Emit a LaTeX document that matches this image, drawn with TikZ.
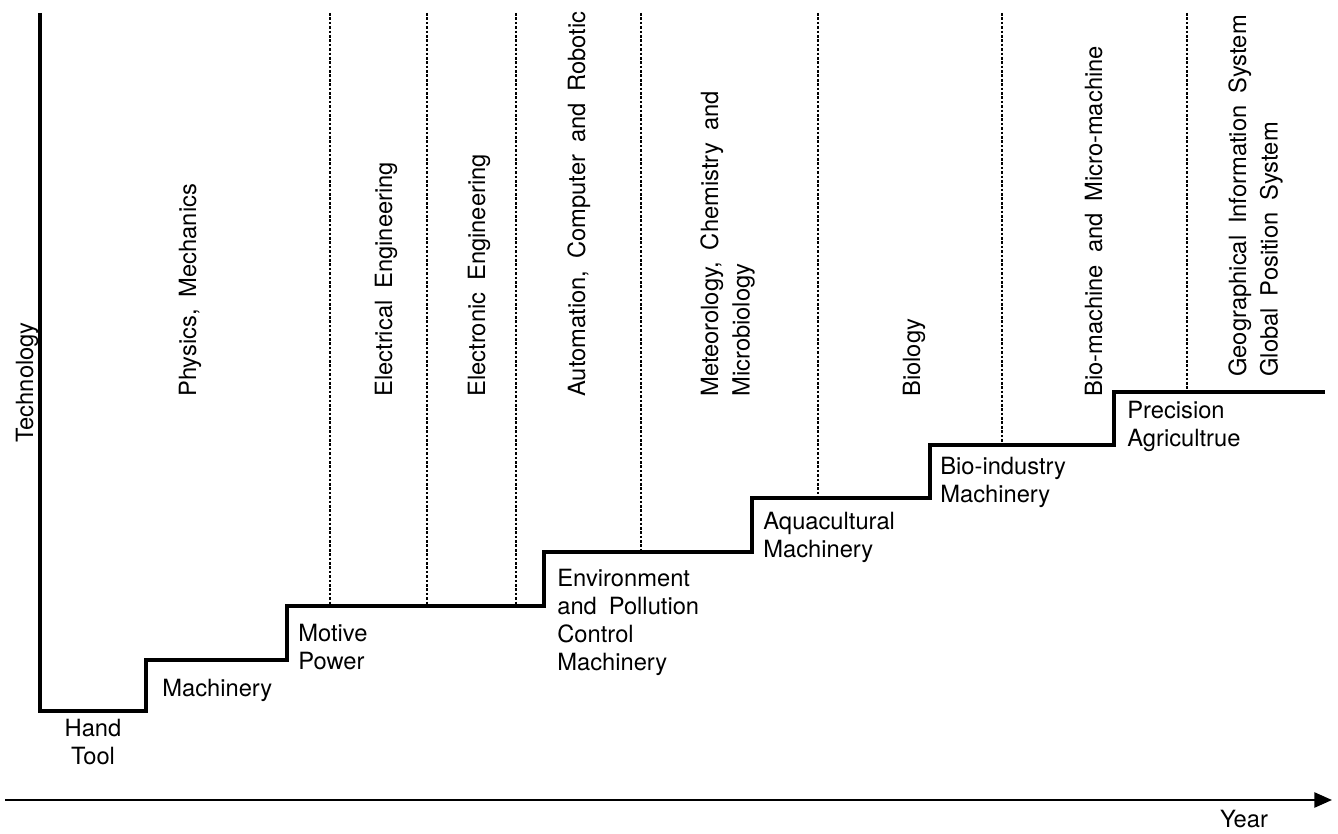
\documentclass[tikz,border=0pt]{standalone}
\usepackage{fontspec}
\setmainfont{TeX Gyre Heros}
\usetikzlibrary{arrows.meta}
\newcommand\labfont{\fontsize{13.5}{16}\selectfont\spaceskip 0.5em\relax}

\begin{document}
\begin{tikzpicture}[x=0.02cm, y=-0.02cm,
  lab/.style={font=\labfont, inner sep=0pt, align=left},
  vlab/.style={lab, rotate=90},
  stair/.style={line width=1.9pt, line join=miter},
  guide/.style={line width=0.6pt, dash pattern=on 1.5pt off 1pt},
  axis/.style={line width=1.4pt, -{Triangle[length=10pt, width=8.5pt]}}]
\useasboundingbox (0,0) rectangle (1338,834);

% staircase of technology levels
\coordinate (top) at (40,13);
\coordinate (s0) at (40,711);
\coordinate (s1) at (146,711);
\coordinate (s2) at (146,660);
\coordinate (s3) at (287,660);
\coordinate (s4) at (287,606);
\coordinate (s5) at (544,606);
\coordinate (s6) at (544,552);
\coordinate (s7) at (752,552);
\coordinate (s8) at (752,498);
\coordinate (s9) at (930,498);
\coordinate (s10) at (930,445);
\coordinate (s11) at (1114,445);
\coordinate (s12) at (1114,392);
\coordinate (s13) at (1325,392);
\draw[stair] (top) -- (s0) -- (s1) -- (s2) -- (s3) -- (s4) -- (s5) -- (s6) -- (s7)
  -- (s8) -- (s9) -- (s10) -- (s11) -- (s12) -- (s13);

% dotted borders between the sciences
\foreach \x/\y in {330/606, 427/606, 516/606, 641/552, 818/498, 1002/445, 1187/392}
  \draw[guide] (\x,13) -- (\x,\y);

% time axis
\coordinate (ya) at (5,800);
\coordinate (yb) at (1332,800);
\draw[axis] (ya) -- (yb);
\node[lab, anchor=base] (year) at (1244,827) {Year};
\node[vlab, anchor=base west] (tech) at (33,443) {Technology};

% sciences
\node[vlab, anchor=base west] (phys) at (196,397) {Physics, Mechanics};
\node[vlab, anchor=base west] (elec) at (392,397) {Electrical Engineering};
\node[vlab, anchor=base west] (etron) at (485,397) {Electronic Engineering};
\node[vlab, anchor=base west] (auto) at (585,397) {Automation, Computer and Robotic};
\node[vlab, anchor=north west] (meteo) at (700,397) {Meteorology, Chemistry and\\[2pt]Microbiology};
\node[vlab, anchor=base west] (bio) at (920,397) {Biology};
\node[vlab, anchor=base west] (biomach) at (1102,397) {Bio-machine and Micro-machine};
\node[vlab, anchor=north west] (gis) at (1228,377) {Geographical Information System\\[2pt]Global Position System};

% machinery on each step
\node[lab, anchor=north, align=center] (hand) at (93,719) {Hand\\Tool};
\node[lab, anchor=north west] (mach) at (162,679) {Machinery};
\node[lab, anchor=north west] (motive) at (298,624) {Motive\\Power};
\node[lab, anchor=north west] (env) at (557,569) {Environment\\and Pollution\\Control\\Machinery};
\node[lab, anchor=north west] (aqua) at (763,512) {Aquacultural\\Machinery};
\node[lab, anchor=north west] (bioind) at (940,457) {Bio-industry\\Machinery};
\node[lab, anchor=north west] (prec) at (1127,401) {Precision\\Agricultrue};
\end{tikzpicture}
\end{document}
